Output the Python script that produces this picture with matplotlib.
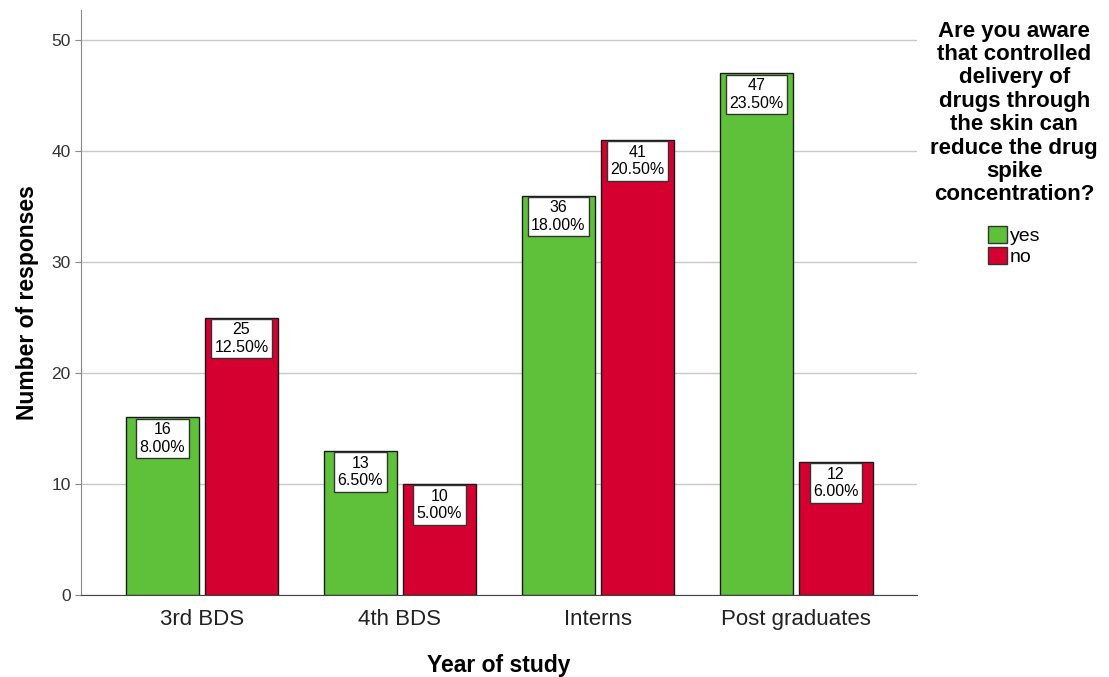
import matplotlib.pyplot as plt
import numpy as np

categories = ['3rd BDS', '4th BDS', 'Interns', 'Post graduates']
yes_counts = [16, 13, 36, 47]
no_counts = [25, 10, 41, 12]
yes_pct = ['8.00%', '6.50%', '18.00%', '23.50%']
no_pct = ['12.50%', '5.00%', '20.50%', '6.00%']
yticks = [0, 10, 20, 30, 40, 50]

green = '#5fc13a'
red = '#d5002f'

plt.rcParams['font.family'] = ['Liberation Sans', 'DejaVu Sans']

fig = plt.figure(figsize=(11.09, 6.77), dpi=100)
ax = fig.add_axes([0.073, 0.121, 0.754, 0.864])

x = np.arange(len(categories))
w = 0.37
b1 = ax.bar(x - 0.2, yes_counts, w, color=green, edgecolor='#1a1a1a', linewidth=1, label='yes', zorder=3)
b2 = ax.bar(x + 0.2, no_counts, w, color=red, edgecolor='#1a1a1a', linewidth=1, label='no', zorder=3)


def label(bars, counts, pcts):
    for bar, c, p in zip(bars, counts, pcts):
        ax.annotate(f'{c}\n{p}', xy=(bar.get_x() + bar.get_width() / 2, c),
                    xytext=(0, -3.5), textcoords='offset points',
                    ha='center', va='top', fontsize=11.5, linespacing=1.2,
                    bbox=dict(boxstyle='square,pad=0.22', fc='white', ec='#333333', lw=1),
                    zorder=4)


label(b1, yes_counts, yes_pct)
label(b2, no_counts, no_pct)

ax.set_xlim(-0.61, 3.61)
ax.set_ylim(0, 52.7)
ax.set_yticks(yticks)
ax.set_xticks(x)
ax.set_xticklabels(categories, fontsize=16, color='#222222')
ax.tick_params(axis='x', length=0, pad=10)
ax.tick_params(axis='y', labelsize=12.5, labelcolor='#333333', length=4, color='#888888')
ax.yaxis.grid(True, color='#c8c8c8', linewidth=1, zorder=0)
ax.set_axisbelow(True)
for s in ['top', 'right']:
    ax.spines[s].set_visible(False)
ax.spines['left'].set_color('#888888')
ax.spines['bottom'].set_color('#444444')

ax.set_ylabel('Number of responses', fontsize=16.5, fontweight='bold', labelpad=9)
ax.set_xlabel('Year of study', fontsize=16.5, fontweight='bold', labelpad=17)

leg = ax.legend(title='Are you aware\nthat controlled\ndelivery of\ndrugs through\nthe skin can\nreduce the drug\nspike\nconcentration?',
                loc='upper center', bbox_to_anchor=(1.116, 1.012), frameon=False,
                fontsize=14, handlelength=0.95, handleheight=0.95, handletextpad=0.15,
                labelspacing=0.1, title_fontproperties={'weight': 'bold', 'size': 16})
leg._legend_box.align = 'center'
leg._legend_box.sep = 15
leg.get_title().set_multialignment('center')
leg.get_title().set_linespacing(1.15)
for p in leg.get_patches():
    p.set_edgecolor('#333333')

fig.savefig('out.png', dpi=100)
